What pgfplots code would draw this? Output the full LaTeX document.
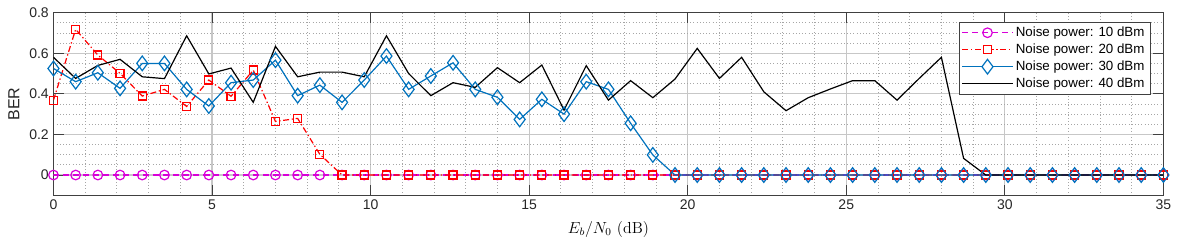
\documentclass[border=0pt]{standalone}
\usepackage{pgfplots}
\pgfplotsset{compat=1.18}
\usepackage{pgfplotstable}
\usepackage{fontspec}
\setmainfont{Liberation Sans}
\newfontfamily\lmr{Latin Modern Roman}
\definecolor{mblue}{rgb}{0,0.447,0.741}
\definecolor{mmag}{rgb}{0.85,0,0.85}
\definecolor{mred}{rgb}{1,0,0}
\definecolor{axgray}{rgb}{0.25,0.25,0.25}

\pgfplotstableread{
x     p10  p20    p30    p40
0.0   0    0.369  0.525  0.580
0.7   0    0.718  0.460  0.476
1.4   0    0.591  0.504  0.540
2.1   0    0.501  0.427  0.570
2.8   0    0.389  0.550  0.484
3.5   0    0.422  0.550  0.475
4.2   0    0.338  0.422  0.686
4.9   0    0.468  0.340  0.498
5.6   0    0.388  0.455  0.527
6.3   0    0.517  0.468  0.358
7.0   0    0.264  0.566  0.634
7.7   0    0.279  0.391  0.484
8.4   0    0.102  0.443  0.507
9.1   0    0      0.358  0.507
9.8   0    0      0.468  0.484
10.5  0    0      0.586  0.686
11.2  0    0      0.422  0.500
11.9  0    0      0.488  0.391
12.6  0    0      0.553  0.455
13.3  0    0      0.422  0.432
14.0  0    0      0.383  0.529
14.7  0    0      0.274  0.455
15.4  0    0      0.373  0.542
16.1  0    0      0.300  0.320
16.8  0    0      0.460  0.539
17.5  0    0      0.422  0.369
18.2  0    0      0.255  0.465
18.9  0    0      0.099  0.381
19.6  0    0      0      0.473
20.3  0    0      0      0.624
21.0  0    0      0      0.476
21.7  0    0      0      0.580
22.4  0    0      0      0.410
23.1  0    0      0      0.317
23.8  0    0      0      0.381
24.5  0    0      0      0.424
25.2  0    0      0      0.465
25.9  0    0      0      0.465
26.6  0    0      0      0.369
27.3  0    0      0      0.476
28.0  0    0      0      0.580
28.7  0    0      0      0.082
29.4  0    0      0      0
30.1  0    0      0      0
30.8  0    0      0      0
31.5  0    0      0      0
32.2  0    0      0      0
32.9  0    0      0      0
33.6  0    0      0      0
34.3  0    0      0      0
35.0  0    0      0      0
}\bertable

\begin{document}
\begin{tikzpicture}
\path[use as bounding box] (-40.1pt,-38pt) rectangle (845.7pt,146.5pt);
\begin{axis}[
  at={(0,0)}, anchor=south west,
  scale only axis, width=832.5pt, height=137pt,
  xmin=0, xmax=35, ymin=-0.1, ymax=0.8,
  xtick={0,5,...,35}, ytick={0,0.2,0.4,0.6,0.8},
  minor x tick num=4, minor y tick num=3,
  grid=both,
  major grid style={color=black!22, line width=0.8pt},
  minor grid style={color=black!35, dotted, line width=0.6pt},
  axis line style={color=axgray, line width=0.8pt},
  tick style={color=axgray, line width=0.6pt},
  tick align=inside, tick pos=both,
  major tick length=8pt, minor tick length=0pt,
  /pgf/number format/assume math mode=true,
  ticklabel style={font=\fontsize{10.5}{12}\selectfont, text=black!85},
  xlabel={{\lmr $E_b/N_0$ (dB)}},
  xlabel style={font=\fontsize{12}{14}\selectfont, at={(axis description cs:0.5,-0.186)}, anchor=center},
  ylabel={BER},
  ylabel style={font=\fontsize{12}{14}\selectfont, text=black!85, at={(axis description cs:-0.0356,0.5)}, anchor=center},
  legend cell align=left,
  legend style={at={(0.988,0.949)}, anchor=north east, font=\fontsize{10}{12}\selectfont,
    draw=axgray, fill=white, inner xsep=2pt, inner ysep=1.5pt, row sep=0pt},
]
\addplot[color=mmag, line width=0.9pt, dash pattern=on 4.5pt off 3pt, mark=o, mark size=3.6pt, mark options={solid, line width=0.9pt},
  legend image code/.code={
    \draw[mmag, line width=0.9pt, dash pattern=on 4.5pt off 3pt] (0cm,0cm) -- (1.32cm,0cm);
    \draw[mmag, line width=0.9pt, solid] (0.66cm,0cm) circle[radius=3.6pt];}] table[x=x, y=p10] {\bertable};
\addlegendentry{Noise power: 10 dBm}
\addplot[color=mred, line width=0.9pt, dash pattern=on 4.5pt off 2pt on 1pt off 2pt, mark=square, mark size=3pt, mark options={solid, line width=0.9pt},
  legend image code/.code={
    \draw[mred, line width=0.9pt, dash pattern=on 4.5pt off 2pt on 1pt off 2pt] (0cm,0cm) -- (1.32cm,0cm);
    \draw[mred, line width=0.9pt, solid, fill=white] (0.66cm-3pt,-3pt) rectangle (0.66cm+3pt,3pt);}] table[x=x, y=p20] {\bertable};
\addlegendentry{Noise power: 20 dBm}
\addplot[color=mblue, line width=0.9pt, solid, mark=diamond, mark size=5.5pt, mark options={solid, line width=0.9pt},
  legend image code/.code={
    \draw[mblue, line width=0.9pt] (0cm,0cm) -- (1.32cm,0cm);
    \draw[mblue, line width=0.9pt, fill=white] (0.66cm,5.5pt) -- (0.66cm+4.125pt,0pt) -- (0.66cm,-5.5pt) -- (0.66cm-4.125pt,0pt) -- cycle;}] table[x=x, y=p30] {\bertable};
\addlegendentry{Noise power: 30 dBm}
\addplot[color=black, line width=0.9pt, solid, no marks,
  legend image code/.code={\draw[black, line width=0.9pt] (0cm,0cm) -- (1.32cm,0cm);}] table[x=x, y=p40] {\bertable};
\addlegendentry{Noise power: 40 dBm}
\end{axis}
\end{tikzpicture}
\end{document}
